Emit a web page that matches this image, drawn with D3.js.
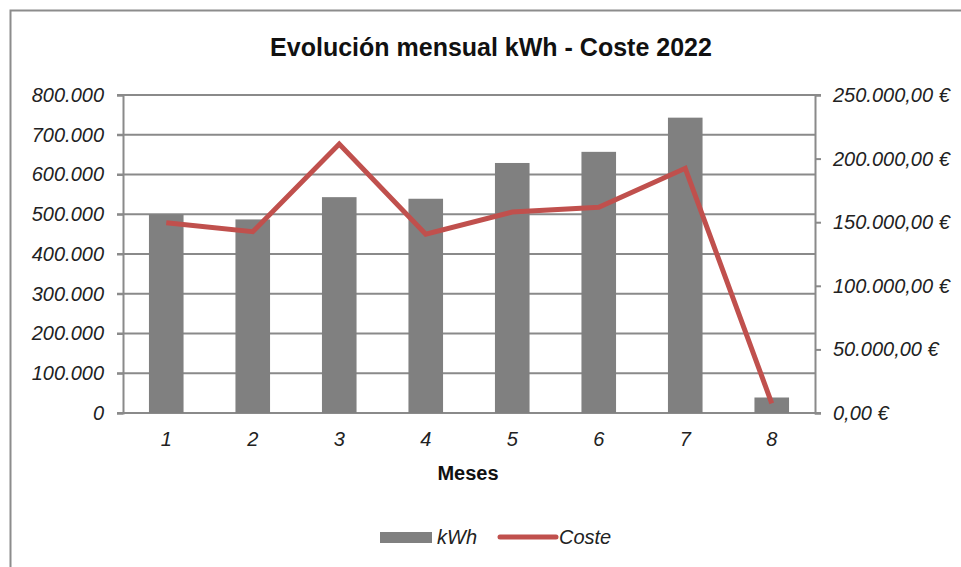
<!DOCTYPE html>
<html>
<head>
<meta charset="utf-8">
<script src="https://cdn.jsdelivr.net/npm/d3@7"></script>
<style>
	body { margin: 0; background: #fff; }
	text { font-family: "Liberation Sans", Arial, sans-serif; }
</style>
</head>
<body>
<script>
// evolucion mensual kWh / coste

var meses = ["1", "2", "3", "4", "5", "6", "7", "8"];
var kwh = [500000, 487000, 543000, 539000, 629000, 657000, 743000, 39000];
var coste = [149600, 142500, 211500, 140500, 158000, 161700, 192400, 7600];
var kwhTicks = [0, 100000, 200000, 300000, 400000, 500000, 600000, 700000, 800000];
var costeTicks = [0, 50000, 100000, 150000, 200000, 250000];

var w = 961, h = 567;
var pLeft = 123, pRight = 815, pTop = 95, pBottom = 413;
var gridColor = "#8a8a8a";

var es = d3.formatLocale({decimal: ",", thousands: ".", grouping: [3], currency: ["", " €"]});
var fmtKwh = es.format(",.0f");
var fmtEur = function(v) { return es.format(",.2f")(v) + " €"; };

var svg = d3.select("body")
		.append("svg")
		.attr("width", w)
		.attr("height", h);

// marco
svg.append("rect")
	.attr("x", 10.5)
	.attr("y", 10.5)
	.attr("width", w + 20)
	.attr("height", h + 20)
	.attr("fill", "none")
	.attr("stroke", "#8c8c8c")
	.attr("stroke-width", 2);

svg.append("text")
	.attr("x", 491)
	.attr("y", 56)
	.attr("text-anchor", "middle")
	.attr("font-size", 25)
	.attr("font-weight", "bold")
	.attr("fill", "#111")
	.text("Evolución mensual kWh - Coste 2022");

var x = d3.scaleBand()
		.domain(meses)
		.range([pLeft, pRight])
		.paddingInner(0.6)
		.paddingOuter(0.3);
var xc = function(d) { return x(d) + x.bandwidth() / 2; };
var y = d3.scaleLinear().domain([0, 800000]).range([pBottom, pTop]);
var y2 = d3.scaleLinear().domain([0, 250000]).range([pBottom, pTop]);

// lineas de division
svg.append("g")
	.selectAll("line")
	.data(kwhTicks)
	.enter()
	.append("line")
	.attr("x1", pLeft - 6)
	.attr("x2", function(d) { return d == 800000 ? pRight + 6 : pRight; })
	.attr("y1", function(d) { return y(d); })
	.attr("y2", function(d) { return y(d); })
	.attr("stroke", gridColor)
	.attr("stroke-width", 2);

// ejes
var yAxis = svg.append("g")
		.attr("transform", "translate(" + pLeft + ",0)")
		.call(d3.axisLeft(y).tickValues(kwhTicks).tickFormat(fmtKwh).tickSize(6).tickPadding(13));
var y2Axis = svg.append("g")
		.attr("transform", "translate(" + pRight + ",0)")
		.call(d3.axisRight(y2).tickValues(costeTicks).tickFormat(fmtEur).tickSize(6).tickPadding(12));
var xAxis = svg.append("g")
		.attr("transform", "translate(0," + pBottom + ")")
		.call(d3.axisBottom(x).tickSize(0).tickPadding(19));

[yAxis, y2Axis, xAxis].forEach(function(a) {
	a.select(".domain").attr("stroke", gridColor).attr("stroke-width", 2);
	a.selectAll(".tick line").attr("stroke", gridColor).attr("stroke-width", 2);
	a.selectAll("text")
		.attr("font-family", "Liberation Sans, Arial, sans-serif")
		.attr("font-style", "italic")
		.attr("font-size", 20)
		.attr("fill", "#222");
});
xAxis.select(".domain").attr("d", "M" + (pLeft - 6) + ",0H" + (pRight + 6));

// barras kWh
svg.append("g")
	.selectAll("rect")
	.data(kwh)
	.enter()
	.append("rect")
	.attr("x", function(d, i) { return x(meses[i]); })
	.attr("y", function(d) { return y(d); })
	.attr("width", x.bandwidth())
	.attr("height", function(d) { return pBottom - y(d); })
	.attr("fill", "#808080");

// linea coste
var line = d3.line()
		.x(function(d, i) { return xc(meses[i]); })
		.y(function(d) { return y2(d); });
svg.append("path")
	.datum(coste)
	.attr("d", line)
	.attr("fill", "none")
	.attr("stroke", "#c0504d")
	.attr("stroke-width", 5)
	.attr("stroke-linejoin", "miter");

svg.append("text")
	.attr("x", 468)
	.attr("y", 480)
	.attr("text-anchor", "middle")
	.attr("font-size", 20)
	.attr("font-weight", "bold")
	.attr("fill", "#111")
	.text("Meses");

// leyenda
svg.append("rect")
	.attr("x", 380)
	.attr("y", 532)
	.attr("width", 52)
	.attr("height", 11)
	.attr("fill", "#808080");
svg.append("text")
	.attr("x", 437)
	.attr("y", 544)
	.attr("font-size", 20)
	.attr("font-style", "italic")
	.attr("fill", "#222")
	.text("kWh");
svg.append("line")
	.attr("x1", 500)
	.attr("x2", 556)
	.attr("y1", 537)
	.attr("y2", 537)
	.attr("stroke", "#c0504d")
	.attr("stroke-width", 5)
	.attr("stroke-linecap", "round");
svg.append("text")
	.attr("x", 559)
	.attr("y", 544)
	.attr("font-size", 20)
	.attr("font-style", "italic")
	.attr("fill", "#222")
	.text("Coste");
</script>
</body>
</html>
